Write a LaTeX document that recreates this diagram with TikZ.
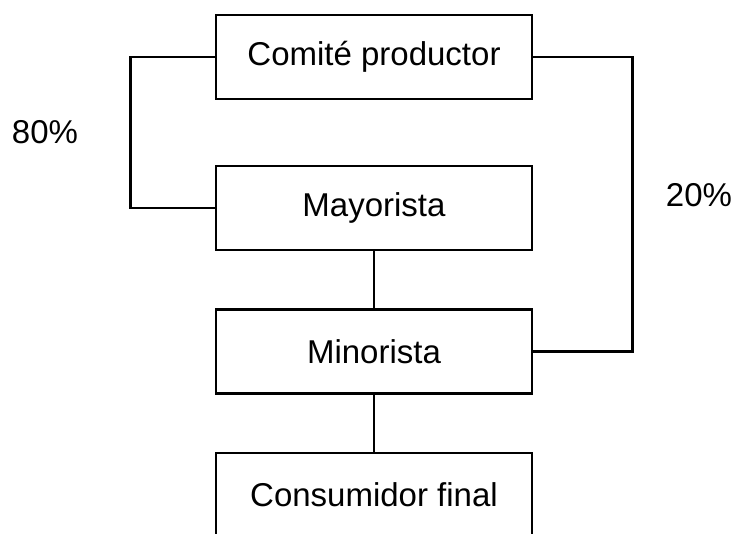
\documentclass[tikz,border=0pt]{standalone}
\usepackage{fontspec}
\setmainfont{Liberation Sans}
\begin{document}
\begin{tikzpicture}[x=1pt,y=-1pt,
    stage/.style={draw,line width=2.8pt,minimum width=316pt,minimum height=84pt,
      inner sep=0pt,font=\fontsize{33}{40}\selectfont},
    share/.style={font=\fontsize{33}{40}\selectfont}]
      \useasboundingbox (0,0) rectangle (739,533);
      \draw
        (374,57) node[stage] (comite){Comité productor}
        (374,208) node[stage] (mayorista){Mayorista}
        (374,351.5) node[stage] (minorista){Minorista}
        (374,495) node[stage] (consumidor){Consumidor final}
        (45,132) node[share] (pct80){80\%}
        (699,195) node[share] (pct20){20\%};
      \begin{scope}[-,line width=2.8pt]
        \draw (comite.west) -- ++(-84,0) |- (mayorista.west);
        \draw (comite.east) -- ++(99,0) |- (minorista.east);
        \draw (mayorista.south) to (minorista.north);
        \draw (minorista.south) to (consumidor.north);
      \end{scope}
    \end{tikzpicture}
\end{document}
